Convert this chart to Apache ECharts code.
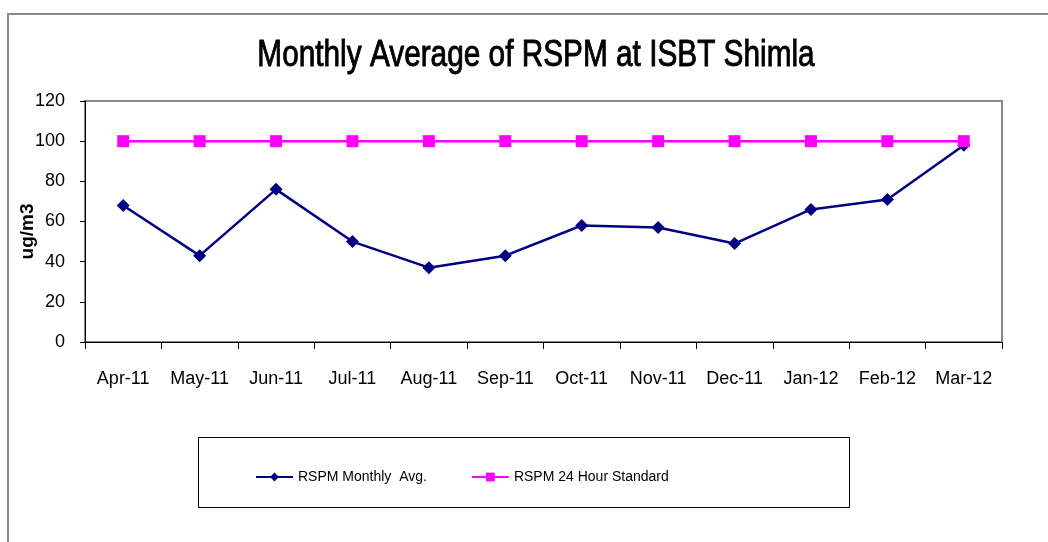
<!DOCTYPE html>
<html>
<head>
<meta charset="utf-8">
<script src="https://cdn.jsdelivr.net/npm/echarts@6/dist/echarts.min.js"></script>
<style>
html, body { margin: 0; padding: 0; background: #fff; }
#main { width: 1048px; height: 542px; }
</style>
</head>
<body>
<div id="main"></div>
<script>
// 月份
var months = ['Apr-11', 'May-11', 'Jun-11', 'Jul-11', 'Aug-11', 'Sep-11',
	'Oct-11', 'Nov-11', 'Dec-11', 'Jan-12', 'Feb-12', 'Mar-12'];
// RSPM 月均值
var rspmAvg = [68, 43, 76, 50, 37, 43, 58, 57, 49, 66, 71, 98];
// 24 小时标准
var rspmStd = [100, 100, 100, 100, 100, 100, 100, 100, 100, 100, 100, 100];
var chartTitle = 'Monthly Average of RSPM at ISBT Shimla';

var chart = echarts.init(document.getElementById('main'));
var font = 'Liberation Sans, Arial, sans-serif';

var option = {
	animation: false,
	backgroundColor: '#fff',
	graphic: [
		// 外框
		{ type: 'polyline', shape: { points: [[8, 542], [8, 14], [1048, 14]] }, style: { stroke: '#888', lineWidth: 2, fill: null } },
		// 图例框
		{ type: 'rect', shape: { x: 198.5, y: 437.5, width: 651, height: 70 }, style: { stroke: '#000', lineWidth: 1, fill: null } },
		// 标题 (窄体字, 用 scaleX 压扁, 描边加粗一点)
		{ type: 'text', x: 536, y: 56, scaleX: 0.805,
			style: { text: chartTitle, fontFamily: font, fontSize: 37, fill: '#000', stroke: '#000', lineWidth: 0.9,
				align: 'center', verticalAlign: 'middle' } }
	],
	legend: {
		top: 465,
		left: 250,
		itemWidth: 37,
		itemHeight: 11,
		itemGap: 44,
		textStyle: { fontFamily: font, fontSize: 14, color: '#000' },
		data: ['RSPM Monthly  Avg.', 'RSPM 24 Hour Standard']
	},
	grid: {
		left: 85, right: 46, top: 101, bottom: 200,
		outerBoundsMode: 'none',
		show: true, borderColor: '#888', borderWidth: 2, backgroundColor: '#fff'
	},
	xAxis: {
		type: 'category',
		data: months,
		boundaryGap: true,
		axisLine: { lineStyle: { color: '#000', width: 1 } },
		axisTick: { show: true, length: 7, lineStyle: { color: '#000' } },
		axisLabel: { interval: 0, margin: 28, fontFamily: font, fontSize: 18, color: '#000' },
		splitLine: { show: false }
	},
	yAxis: {
		type: 'value',
		min: 0, max: 120, interval: 20,
		name: 'ug/m3',
		nameLocation: 'middle',
		nameMoveOverlap: false,
		nameGap: 48,
		nameTextStyle: { fontFamily: font, fontSize: 19, fontWeight: 'bold', color: '#000', padding: [0, 20, 0, 0] },
		axisLine: { show: true, lineStyle: { color: '#000', width: 1 } },
		axisTick: { show: true, length: 5, lineStyle: { color: '#000' } },
		axisLabel: { margin: 20, fontFamily: font, fontSize: 18, color: '#000' },
		splitLine: { show: false }
	},
	series: [
		{
			name: 'RSPM Monthly  Avg.',
			type: 'line',
			data: rspmAvg,
			symbol: 'diamond',
			symbolSize: 13,
			color: '#000080',
			lineStyle: { width: 2.5, color: '#000080' },
			itemStyle: { color: '#000080' },
			z: 2
		},
		{
			name: 'RSPM 24 Hour Standard',
			type: 'line',
			data: rspmStd,
			symbol: 'rect',
			symbolSize: 12,
			color: '#ff00ff',
			lineStyle: { width: 2.5, color: '#ff00ff' },
			itemStyle: { color: '#ff00ff' },
			z: 3
		}
	]
};
chart.setOption(option);
</script>
</body>
</html>
